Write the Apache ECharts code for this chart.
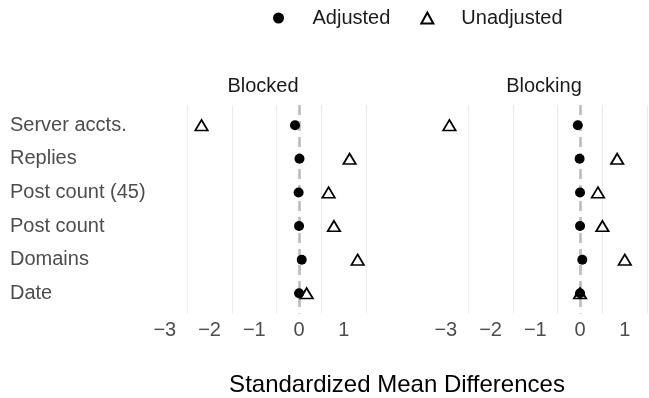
<!DOCTYPE html>
<html>
<head>
<meta charset="utf-8">
<script src="https://cdn.jsdelivr.net/npm/echarts@6/dist/echarts.min.js"></script>
<style>
html,body{margin:0;padding:0;background:#fff;}
#chart{width:649px;height:398px;}
</style>
</head>
<body>
<div id="chart"></div>
<script>
const categories = ['Server accts.', 'Replies', 'Post count (45)', 'Post count', 'Domains', 'Date'];
const panels = ['Blocked', 'Blocking'];
const blockedAdjusted = [-0.09, 0.01, -0.01, 0.0, 0.06, 0.0];
const blockedUnadjusted = [-2.18, 1.13, 0.66, 0.78, 1.31, 0.17];
const blockingAdjusted = [-0.05, -0.01, 0.0, 0.0, 0.05, 0.0];
const blockingUnadjusted = [-2.92, 0.83, 0.40, 0.50, 1.00, 0.0];
const xTicks = [-3, -2, -1, 0, 1];
const minorBreaks = [-2.5, -1.5, -0.5, 0.5, 1.5];
const xTitle = 'Standardized Mean Differences';

const FONT = '"Liberation Sans", Arial, sans-serif';
const FS = 20;
const chart = echarts.init(document.getElementById('chart'), null, {renderer: 'canvas'});

const xMin = -3.13, xMax = 1.53;
const grids = [
  {left: 159, width: 208.5, top: 105, height: 208.5},
  {left: 440, width: 208.5, top: 105, height: 208.5}
];

function toPts(vals) { return vals.map((v, i) => [v, i]); }
const fmtNum = v => (v < 0 ? '\u2212' + Math.abs(v) : String(v));

const xAxes = grids.map((g, i) => ({
  gridIndex: i, type: 'value', min: xMin, max: xMax,
  axisLine: {show: false}, axisTick: {show: false}, splitLine: {show: false},
  axisLabel: {customValues: xTicks, formatter: fmtNum, color: '#4d4d4d',
    fontSize: FS, fontFamily: FONT, margin: 7}
}));
const yAxes = grids.map((g, i) => ({
  gridIndex: i, type: 'value', min: -0.6, max: categories.length - 0.4, inverse: true,
  axisLine: {show: false}, axisTick: {show: false}, splitLine: {show: false},
  axisLabel: {show: i === 0, customValues: categories.map((c, k) => k),
    formatter: v => categories[Math.round(v)] || '', align: 'left', margin: 149,
    color: '#4d4d4d', fontSize: FS, fontFamily: FONT}
}));

const series = [];
const data = [[blockedAdjusted, blockedUnadjusted], [blockingAdjusted, blockingUnadjusted]];
data.forEach((d, i) => {
  series.push({
    type: 'scatter', name: 'guides' + i, xAxisIndex: i, yAxisIndex: i, data: [], z: 1,
    silent: true,
    markLine: {
      silent: true, symbol: 'none', animation: false, label: {show: false}, z: 1,
      data: minorBreaks.map(b => ({xAxis: b, lineStyle: {color: '#ebebeb', width: 1.1, type: 'solid'}}))
        .concat([{xAxis: 0, lineStyle: {color: '#bfbfbf', width: 2.8, type: [10, 6]}}])
    }
  });
  series.push({
    type: 'scatter', name: 'Unadjusted', xAxisIndex: i, yAxisIndex: i, z: 3,
    data: toPts(d[1]), symbol: 'triangle', symbolSize: [12.5, 10.5],
    itemStyle: {color: 'rgba(0,0,0,0)', borderColor: '#000', borderWidth: 1.7, opacity: 1}
  });
  series.push({
    type: 'scatter', name: 'Adjusted', xAxisIndex: i, yAxisIndex: i, z: 4,
    data: toPts(d[0]), symbol: 'circle', symbolSize: 10,
    itemStyle: {color: '#000', opacity: 1}
  });
});

chart.setOption({
  animation: false,
  backgroundColor: '#fff',
  grid: grids,
  xAxis: xAxes,
  yAxis: yAxes,
  title: [
    {text: panels[0], left: 263, top: 76, textAlign: 'center', padding: 0,
      textStyle: {color: '#1a1a1a', fontSize: FS, fontWeight: 'normal', fontFamily: FONT}},
    {text: panels[1], left: 544, top: 76, textAlign: 'center', padding: 0,
      textStyle: {color: '#1a1a1a', fontSize: FS, fontWeight: 'normal', fontFamily: FONT}},
    {text: xTitle, left: 397, top: 373, textAlign: 'center', padding: 0,
      textStyle: {color: '#000', fontSize: 24, fontWeight: 'normal', fontFamily: FONT}}
  ],
  legend: {
    data: [{name: 'Adjusted', icon: 'circle'}, {name: 'Unadjusted', icon: 'triangle'}],
    left: 273, top: 8, padding: 0, itemWidth: 12, itemHeight: 11, itemGap: 30,
    selectedMode: false,
    textStyle: {color: '#1a1a1a', fontSize: FS, fontFamily: FONT, padding: [0, 0, 0, 23]}
  },
  series: series
});
</script>
</body>
</html>
